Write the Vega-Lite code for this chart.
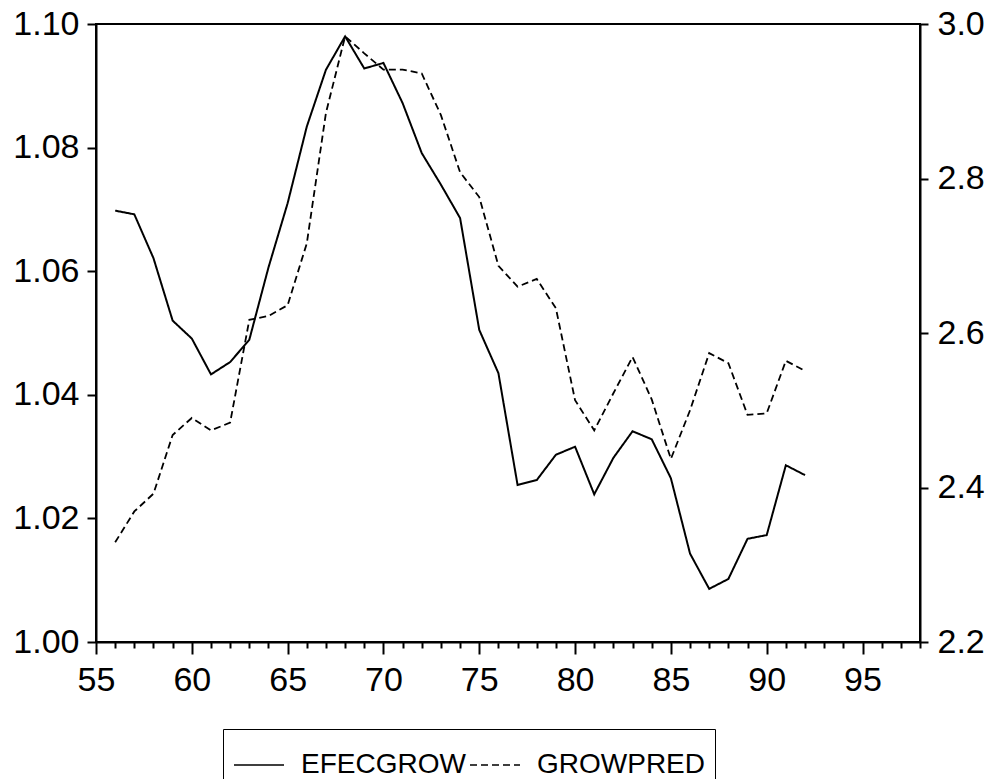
{
  "$schema": "https://vega.github.io/schema/vega-lite/v6.json",
  "autosize": "none",
  "width": 824,
  "height": 618,
  "padding": {"left": 96, "top": 24, "right": 75, "bottom": 137},
  "background": "white",
  "config": {
    "view": {"stroke": "black", "strokeWidth": 2},
    "axis": {
      "grid": false,
      "title": null,
      "domainColor": "black",
      "domainWidth": 2,
      "tickColor": "black",
      "tickWidth": 2,
      "labelColor": "black",
      "labelFont": "Liberation Sans",
      "labelFontSize": 34
    }
  },
  "data": {
    "values": [
      {"year": 56, "series": "EFECGROW", "value": 1.0698},
      {"year": 57, "series": "EFECGROW", "value": 1.0692},
      {"year": 58, "series": "EFECGROW", "value": 1.0621},
      {"year": 59, "series": "EFECGROW", "value": 1.0520},
      {"year": 60, "series": "EFECGROW", "value": 1.0491},
      {"year": 61, "series": "EFECGROW", "value": 1.0433},
      {"year": 62, "series": "EFECGROW", "value": 1.0453},
      {"year": 63, "series": "EFECGROW", "value": 1.0489},
      {"year": 64, "series": "EFECGROW", "value": 1.0606},
      {"year": 65, "series": "EFECGROW", "value": 1.0710},
      {"year": 66, "series": "EFECGROW", "value": 1.0834},
      {"year": 67, "series": "EFECGROW", "value": 1.0926},
      {"year": 68, "series": "EFECGROW", "value": 1.0980},
      {"year": 69, "series": "EFECGROW", "value": 1.0928},
      {"year": 70, "series": "EFECGROW", "value": 1.0937},
      {"year": 71, "series": "EFECGROW", "value": 1.0872},
      {"year": 72, "series": "EFECGROW", "value": 1.0791},
      {"year": 73, "series": "EFECGROW", "value": 1.0740},
      {"year": 74, "series": "EFECGROW", "value": 1.0686},
      {"year": 75, "series": "EFECGROW", "value": 1.0505},
      {"year": 76, "series": "EFECGROW", "value": 1.0435},
      {"year": 77, "series": "EFECGROW", "value": 1.0254},
      {"year": 78, "series": "EFECGROW", "value": 1.0262},
      {"year": 79, "series": "EFECGROW", "value": 1.0303},
      {"year": 80, "series": "EFECGROW", "value": 1.0316},
      {"year": 81, "series": "EFECGROW", "value": 1.0239},
      {"year": 82, "series": "EFECGROW", "value": 1.0298},
      {"year": 83, "series": "EFECGROW", "value": 1.0341},
      {"year": 84, "series": "EFECGROW", "value": 1.0328},
      {"year": 85, "series": "EFECGROW", "value": 1.0265},
      {"year": 86, "series": "EFECGROW", "value": 1.0143},
      {"year": 87, "series": "EFECGROW", "value": 1.0086},
      {"year": 88, "series": "EFECGROW", "value": 1.0102},
      {"year": 89, "series": "EFECGROW", "value": 1.0167},
      {"year": 90, "series": "EFECGROW", "value": 1.0173},
      {"year": 91, "series": "EFECGROW", "value": 1.0286},
      {"year": 92, "series": "EFECGROW", "value": 1.0270},
      {"year": 56, "series": "GROWPRED", "value": 2.329},
      {"year": 57, "series": "GROWPRED", "value": 2.369},
      {"year": 58, "series": "GROWPRED", "value": 2.392},
      {"year": 59, "series": "GROWPRED", "value": 2.468},
      {"year": 60, "series": "GROWPRED", "value": 2.490},
      {"year": 61, "series": "GROWPRED", "value": 2.474},
      {"year": 62, "series": "GROWPRED", "value": 2.484},
      {"year": 63, "series": "GROWPRED", "value": 2.617},
      {"year": 64, "series": "GROWPRED", "value": 2.622},
      {"year": 65, "series": "GROWPRED", "value": 2.636},
      {"year": 66, "series": "GROWPRED", "value": 2.716},
      {"year": 67, "series": "GROWPRED", "value": 2.885},
      {"year": 68, "series": "GROWPRED", "value": 2.984},
      {"year": 69, "series": "GROWPRED", "value": 2.962},
      {"year": 70, "series": "GROWPRED", "value": 2.941},
      {"year": 71, "series": "GROWPRED", "value": 2.941},
      {"year": 72, "series": "GROWPRED", "value": 2.936},
      {"year": 73, "series": "GROWPRED", "value": 2.882},
      {"year": 74, "series": "GROWPRED", "value": 2.808},
      {"year": 75, "series": "GROWPRED", "value": 2.776},
      {"year": 76, "series": "GROWPRED", "value": 2.687},
      {"year": 77, "series": "GROWPRED", "value": 2.660},
      {"year": 78, "series": "GROWPRED", "value": 2.670},
      {"year": 79, "series": "GROWPRED", "value": 2.632},
      {"year": 80, "series": "GROWPRED", "value": 2.513},
      {"year": 81, "series": "GROWPRED", "value": 2.474},
      {"year": 82, "series": "GROWPRED", "value": 2.522},
      {"year": 83, "series": "GROWPRED", "value": 2.569},
      {"year": 84, "series": "GROWPRED", "value": 2.514},
      {"year": 85, "series": "GROWPRED", "value": 2.437},
      {"year": 86, "series": "GROWPRED", "value": 2.500},
      {"year": 87, "series": "GROWPRED", "value": 2.574},
      {"year": 88, "series": "GROWPRED", "value": 2.561},
      {"year": 89, "series": "GROWPRED", "value": 2.494},
      {"year": 90, "series": "GROWPRED", "value": 2.496},
      {"year": 91, "series": "GROWPRED", "value": 2.564},
      {"year": 92, "series": "GROWPRED", "value": 2.551}
    ]
  },
  "encoding": {
    "x": {
      "field": "year",
      "type": "quantitative",
      "scale": {"domain": [55, 98], "nice": false, "zero": false},
      "axis": {
        "values": [55,56,57,58,59,60,61,62,63,64,65,66,67,68,69,70,71,72,73,74,75,76,77,78,79,80,81,82,83,84,85,86,87,88,89,90,91,92,93,94,95,96,97,98],
        "labelExpr": "datum.value % 5 === 0 ? datum.label : ''",
        "tickSize": {"condition": {"test": "datum.value % 5 === 0", "value": 12}, "value": 6},
        "labelPadding": 9,
        "labelFlush": false,
        "labelOverlap": false
      }
    },
    "strokeDash": {
      "field": "series",
      "type": "nominal",
      "scale": {"domain": ["EFECGROW", "GROWPRED"], "range": [[1, 0], [7, 4]]},
      "legend": {
        "title": null,
        "orient": "none",
        "legendX": 127,
        "legendY": 705,
        "direction": "horizontal",
        "symbolType": "stroke",
        "symbolSize": 2500,
        "symbolStrokeWidth": 1.6,
        "symbolStrokeColor": "black",
        "labelFont": "Liberation Sans",
        "labelFontSize": 28,
        "labelColor": "black",
        "labelOffset": 16,
        "labelLimit": 400,
        "columnPadding": 0,
        "strokeColor": "black",
        "padding": 10,
        "fillColor": "white"
      }
    }
  },
  "layer": [
    {
      "transform": [{"filter": "datum.series === 'EFECGROW'"}],
      "mark": {"type": "line", "color": "black", "strokeWidth": 2},
      "encoding": {
        "y": {
          "field": "value",
          "type": "quantitative",
          "scale": {"domain": [1.0, 1.1], "nice": false, "zero": false},
          "axis": {
            "orient": "left",
            "values": [1.0, 1.02, 1.04, 1.06, 1.08, 1.1],
            "format": ".2f",
            "tickSize": 9,
            "labelPadding": 8
          }
        }
      }
    },
    {
      "transform": [{"filter": "datum.series === 'GROWPRED'"}],
      "mark": {"type": "line", "color": "black", "strokeWidth": 1.8},
      "encoding": {
        "y": {
          "field": "value",
          "type": "quantitative",
          "scale": {"domain": [2.2, 3.0], "nice": false, "zero": false},
          "axis": {
            "orient": "right",
            "values": [2.2, 2.4, 2.6, 2.8, 3.0],
            "format": ".1f",
            "tickSize": 8,
            "labelPadding": 9
          }
        }
      }
    }
  ],
  "resolve": {"scale": {"y": "independent"}}
}
